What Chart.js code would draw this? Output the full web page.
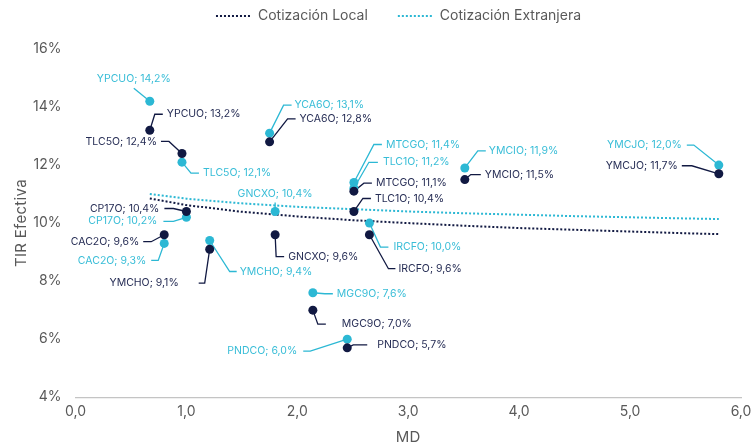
<!DOCTYPE html>
<html>
<head>
<meta charset="utf-8">
<script src="https://cdn.jsdelivr.net/npm/chart.js@4/dist/chart.umd.min.js"></script>
<style>
  html, body { margin: 0; padding: 0; background: #fff; }
</style>
</head>
<body>
<canvas id="chart" width="753" height="442"></canvas>
<script>
// bonds, modified duration and effective yield (%) per quotation currency
const BONDS = ["YPCUO", "TLC5O", "YCA6O", "MTCGO", "TLC1O", "YMCIO", "YMCJO",
               "CP17O", "CAC2O", "YMCHO", "GNCXO", "IRCFO", "MGC9O", "PNDCO"];
const MD = [0.67, 0.96, 1.75, 2.51, 2.51, 3.51, 5.80, 1.00, 0.80, 1.21, 1.80, 2.65, 2.14, 2.45];
const TIR_LOCAL = [13.2, 12.4, 12.8, 11.1, 10.4, 11.5, 11.7, 10.4, 9.6, 9.1, 9.6, 9.6, 7.0, 5.7];
const TIR_EXT   = [14.2, 12.1, 13.1, 11.4, 11.2, 11.9, 12.0, 10.2, 9.3, 9.4, 10.4, 10.0, 7.6, 6.0];

// trend curves
const TREND_MD    = [0.67, 1.0, 1.5, 2.0, 2.5, 3.0, 3.5, 4.0, 4.5, 5.0, 5.5, 5.80];
const TREND_LOCAL = [10.85, 10.62, 10.39, 10.23, 10.10, 10.00, 9.91, 9.83, 9.77, 9.71, 9.65, 9.62];
const TREND_EXT   = [11.00, 10.84, 10.68, 10.56, 10.48, 10.40, 10.34, 10.29, 10.24, 10.20, 10.16, 10.14];

const X_TICKS = [0, 1, 2, 3, 4, 5, 6];
const Y_TICKS = [4, 6, 8, 10, 12, 14, 16];

// label leader layout (px from point): [elbow dx, elbow dy, horizontal run, text gap]
const LOCAL_LEADERS = [
  [5, -16, 8, 4], [-13, -12, -8, 4], [18, -23, 8, 4], [10, -8, 8, 4], [9, -13, 8, 4],
  [6, -5, 10, 4], [-27, -8, -10, 4], [-13, -3, -9, 5], [-13, 7, -8, 4], [-5, 34, -6, 20],
  [1, 22, 8, 4], [19, 34, 7, 3], [5, 14, 8, 16], [6, -3, 14, 10]
];
const EXT_LEADERS = [
  [-16, -13, 0, 9], [9, 11, 8, 4], [14, -28, 8, 3], [20, -38, 8, 4], [15, -26, 9, 5],
  [13, -17, 8, 3], [-25, -20, -7, 5], [-13, 4, -10, 6], [-6, 17, -7, 5], [20, 31, 7, 3],
  [0, -9, 0, 9], [11, 24, 8, 5], [12, 1, 8, 4], [-37, 12, -7, 6]
];

const NAVY = "#111942";
const NAVY_TEXT = "#262d55";
const CYAN = "#2cb8d4";
const CYAN_TEXT = "#38bdd7";
const GREY = "#595959";
const FONT = "Inter, 'Noto Sans', sans-serif";

const fmt = (v) => v.toFixed(1).replace(".", ",");

const pts = (xs, ys) => xs.map((x, i) => ({ x: x, y: ys[i] }));

// draws "NAME; 12,3%" labels with leader lines
const bondLabels = {
  id: "bondLabels",
  leaders(chart, idx, layout, color) {
    const ctx = chart.ctx;
    const meta = chart.getDatasetMeta(idx);
    ctx.save();
    ctx.strokeStyle = color;
    ctx.lineWidth = 1.3;
    meta.data.forEach((el, i) => {
      const [dx, dy, run] = layout[i];
      ctx.beginPath();
      ctx.moveTo(el.x, el.y);
      ctx.lineTo(el.x + dx, el.y + dy);
      if (run !== 0) ctx.lineTo(el.x + dx + run, el.y + dy);
      ctx.stroke();
    });
    ctx.restore();
  },
  texts(chart, idx, layout, values, color) {
    const ctx = chart.ctx;
    const meta = chart.getDatasetMeta(idx);
    ctx.save();
    ctx.fillStyle = color;
    ctx.font = "10.5px " + FONT;
    ctx.textBaseline = "middle";
    meta.data.forEach((el, i) => {
      const [dx, dy, run, gap] = layout[i];
      const txt = BONDS[i] + "; " + fmt(values[i]) + "%";
      const ex = el.x + dx, ey = el.y + dy;
      if (run > 0) {
        ctx.textAlign = "left";
        ctx.fillText(txt, ex + run + gap, ey);
      } else if (run < 0) {
        ctx.textAlign = "right";
        ctx.fillText(txt, ex + run - gap, ey);
      } else {
        ctx.textAlign = "center";
        ctx.fillText(txt, ex, ey - gap);
      }
    });
    ctx.restore();
  },
  beforeDatasetsDraw(chart) {
    this.leaders(chart, 1, EXT_LEADERS, CYAN);
    this.leaders(chart, 0, LOCAL_LEADERS, NAVY);
  },
  afterDatasetsDraw(chart) {
    this.texts(chart, 1, EXT_LEADERS, TIR_EXT, CYAN_TEXT);
    this.texts(chart, 0, LOCAL_LEADERS, TIR_LOCAL, NAVY_TEXT);
  }
};

// fixed legend height / offset, a bit of letter spacing on axis titles
const tweaks = {
  id: "tweaks",
  beforeInit(chart) {
    const lg = chart.legend;
    const fit = lg.fit, draw = lg.draw;
    lg.fit = function () {
      fit.call(this);
      this.height = 70;
    };
    lg.draw = function () {
      const ctx = chart.ctx;
      ctx.save();
      ctx.translate(16, 0);
      draw.call(this);
      ctx.restore();
    };
  },
  afterUpdate(chart) {
    Object.values(chart.scales).forEach((s) => {
      if (s._spaced) return;
      const dt = s.drawTitle;
      s.drawTitle = function () {
        chart.ctx.save();
        chart.ctx.letterSpacing = "0.3px";
        dt.call(this);
        chart.ctx.restore();
      };
      s._spaced = true;
    });
  }
};

const legendLabels = (chart) =>
  Chart.defaults.plugins.legend.labels.generateLabels(chart).map((it) => {
    const ds = chart.data.datasets[it.datasetIndex];
    it.lineDash = ds.borderDash;
    it.lineWidth = ds.borderWidth;
    it.strokeStyle = ds.borderColor;
    return it;
  });

new Chart(document.getElementById("chart"), {
  type: "scatter",
  data: {
    datasets: [
      {
        label: "Local",
        data: pts(MD, TIR_LOCAL),
        backgroundColor: NAVY,
        borderColor: NAVY,
        borderWidth: 0,
        pointRadius: 4.5,
        order: 0
      },
      {
        label: "Extranjera",
        data: pts(MD, TIR_EXT),
        backgroundColor: CYAN,
        borderColor: CYAN,
        borderWidth: 0,
        pointRadius: 4.5,
        order: 1
      },
      {
        label: "Cotización Local",
        data: pts(TREND_MD, TREND_LOCAL),
        showLine: true,
        pointRadius: 0,
        borderColor: NAVY,
        borderWidth: 2,
        borderDash: [2, 2],
        order: 2
      },
      {
        label: "Cotización Extranjera",
        data: pts(TREND_MD, TREND_EXT),
        showLine: true,
        pointRadius: 0,
        borderColor: CYAN,
        borderWidth: 2,
        borderDash: [2, 2],
        order: 2
      }
    ]
  },
  options: {
    responsive: false,
    animation: false,
    layout: { padding: { top: -21, left: 12, right: 0, bottom: -4 } },
    plugins: {
      tooltip: { enabled: false },
      legend: {
        position: "top",
        labels: {
          filter: (item) => item.datasetIndex >= 2,
          generateLabels: legendLabels,
          usePointStyle: true,
          pointStyle: "line",
          pointStyleWidth: 35,
          padding: 30,
          color: GREY,
          font: { family: FONT, size: 14 }
        }
      }
    },
    scales: {
      x: {
        type: "linear",
        min: X_TICKS[0],
        max: X_TICKS[X_TICKS.length - 1],
        afterBuildTicks: (s) => { s.ticks = X_TICKS.map((v) => ({ value: v })); },
        afterFit: (s) => { s.paddingRight = 12; },
        grid: { display: false, drawTicks: false },
        border: { display: true, color: "#c4c4c4", width: 1.3 },
        ticks: {
          color: GREY,
          padding: 6,
          font: { family: FONT, size: 14 },
          callback: (v) => fmt(v)
        },
        title: { display: true, text: "MD", color: GREY, font: { family: FONT, size: 15 }, padding: { top: 2, bottom: 0 } }
      },
      y: {
        min: Y_TICKS[0],
        max: Y_TICKS[Y_TICKS.length - 1],
        afterBuildTicks: (s) => { s.ticks = Y_TICKS.map((v) => ({ value: v })); },
        grid: { display: false, drawTicks: false },
        border: { display: false },
        ticks: {
          color: GREY,
          padding: 14,
          font: { family: FONT, size: 14 },
          callback: (v) => v + "%"
        },
        title: { display: true, text: "TIR Efectiva", color: GREY, font: { family: FONT, size: 15 }, padding: { top: 0, bottom: -11 } }
      }
    }
  },
  plugins: [bondLabels, tweaks]
});
</script>
</body>
</html>
